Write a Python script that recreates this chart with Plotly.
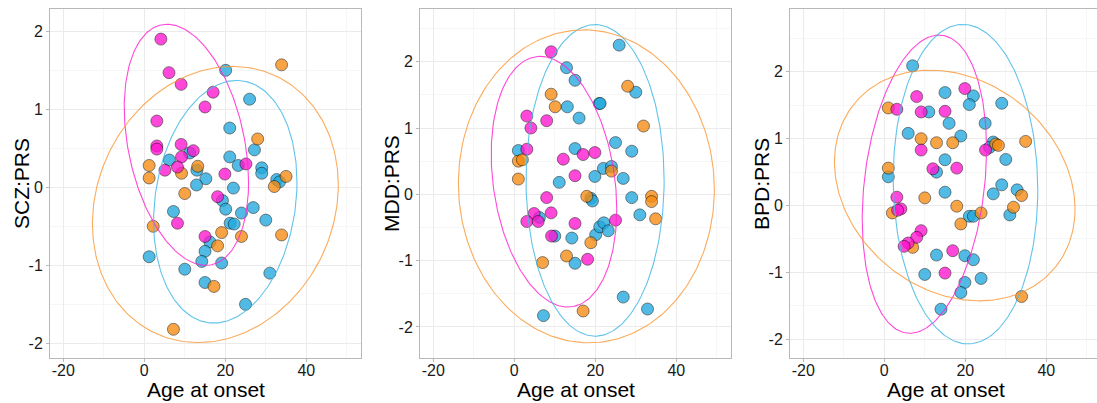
import numpy as np
import plotly.graph_objects as go

# ---------------- data ----------------
# Panel 1: SCZ:PRS
scz_mag_x = [4.1, 6.1, 9.1, 17.0, 15.0, 3.1, 3.1, 3.1, 9.1, 12.1, 9.2, 8.2, 5.1, 19.9, 25.1, 18.1, 8.2, 15.0]
scz_mag_y = [1.90, 1.47, 1.32, 1.22, 1.03, 0.85, 0.53, 0.49, 0.55, 0.47, 0.39, 0.26, 0.22, 0.17, 0.30, -0.12, -0.46, -0.63]
scz_blue_x = [20.1, 26.0, 21.1, 27.2, 6.2, 11.2, 21.1, 23.2, 29.0, 29.0, 13.0, 15.2, 12.9, 32.7, 33.4, 22.0, 19.3,
              20.1, 7.2, 26.9, 24.0, 30.0, 21.2, 22.2, 16.2, 15.0, 1.2, 14.2, 19.1, 10.0, 31.0, 15.0, 25.0]
scz_blue_y = [1.50, 1.13, 0.76, 0.48, 0.35, 0.44, 0.39, 0.28, 0.25, 0.18, 0.22, 0.11, 0.03, 0.10, 0.07, -0.01, -0.17,
              -0.28, -0.31, -0.26, -0.33, -0.42, -0.46, -0.47, -0.70, -0.82, -0.89, -0.95, -0.97, -1.05, -1.10, -1.22, -1.50]
scz_orange_x = [33.9, 28.0, 1.2, 1.2, 13.2, 9.2, 35.0, 10.0, 32.1, 2.2, 19.1, 24.0, 33.9, 18.1, 17.2, 7.2]
scz_orange_y = [1.57, 0.62, 0.28, 0.12, 0.27, 0.18, 0.14, -0.08, 0.01, -0.50, -0.58, -0.63, -0.61, -0.75, -1.27, -1.82]

# Panel 2: MDD:PRS
mdd_mag_x = [9.1, 3.1, 4.1, 8.0, 3.1, 17.0, 19.9, 12.1, 15.0, 8.0, 4.9, 3.1, 5.9, 9.1, 9.2, 15.0, 25.0, 18.1]
mdd_mag_y = [2.15, 1.18, 1.00, 1.11, 0.68, 0.60, 0.63, 0.53, 0.28, -0.05, -0.29, -0.41, -0.41, -0.28, -0.63, -0.44, -0.39, -0.98]
mdd_blue_x = [25.9, 12.9, 15.0, 30.0, 21.0, 21.2, 13.1, 16.0, 25.0, 15.0, 29.0, 1.0, 22.0, 24.0, 19.9, 26.9, 11.1,
              18.9, 19.3, 29.0, 31.0, 6.2, 10.0, 14.2, 20.1, 21.1, 22.1, 23.2, 15.0, 26.9, 32.9, 7.2]
mdd_blue_y = [2.25, 1.91, 1.72, 1.54, 1.37, 1.37, 1.32, 1.15, 0.78, 0.69, 0.65, 0.66, 0.39, 0.42, 0.27, 0.24, 0.18,
              -0.06, -0.10, -0.05, -0.31, -0.35, -0.63, -0.66, -0.61, -0.49, -0.43, -0.55, -1.04, -1.55, -1.73, -1.83]
mdd_orange_x = [28.0, 9.1, 10.1, 31.9, 1.0, 2.0, 1.0, 24.0, 17.9, 33.9, 33.9, 34.9, 18.9, 12.9, 7.0, 17.0]
mdd_orange_y = [1.63, 1.51, 1.32, 1.03, 0.50, 0.52, 0.23, 0.35, -0.03, -0.03, -0.11, -0.37, -0.73, -0.93, -1.03, -1.76]

# Panel 3: BPD:PRS
bpd_mag_x = [19.9, 8.0, 3.1, 9.1, 15.0, 9.1, 25.0, 17.9, 12.0, 3.1, 4.1, 3.3, 9.1, 8.0, 5.9, 4.9, 16.9, 15.0]
bpd_mag_y = [1.75, 1.63, 1.44, 1.40, 1.41, 0.83, 0.83, 0.56, 0.55, 0.125, -0.05, -0.07, -0.375, -0.475, -0.56, -0.61, -0.675, -1.01]
bpd_blue_x = [7.0, 15.0, 22.0, 21.0, 29.0, 11.0, 16.0, 24.9, 5.9, 18.9, 26.9, 26.0, 30.0, 15.0, 1.0, 12.9, 29.0,
              32.8, 15.0, 26.9, 31.0, 21.0, 22.0, 12.9, 19.9, 22.0, 10.0, 23.9, 19.9, 18.9, 14.0]
bpd_blue_y = [2.09, 1.69, 1.64, 1.51, 1.53, 1.40, 1.23, 1.23, 1.08, 1.04, 0.95, 0.87, 0.69, 0.685, 0.43, 0.50, 0.31,
              0.235, 0.20, 0.175, -0.14, -0.16, -0.16, -0.74, -0.75, -0.81, -1.03, -1.09, -1.15, -1.30, -1.55]
bpd_orange_x = [1.0, 9.1, 12.9, 16.9, 27.5, 28.2, 34.9, 1.0, 10.0, 33.9, 17.9, 31.9, 2.0, 23.9, 18.9, 7.0, 33.9]
bpd_orange_y = [1.46, 1.00, 0.94, 0.94, 0.92, 0.90, 0.96, 0.56, 0.115, 0.15, -0.01, -0.025, -0.11, -0.11, -0.275, -0.625, -1.36]

# Ellipse summaries: [centre x, centre y, half-width, half-height, correlation]
scz_ell_mag = [10.4, 0.545, 15.35, 1.545, -0.31]
scz_ell_blue = [20.0, -0.185, 17.7, 1.555, 0.16]
scz_ell_orange = [17.55, -0.22, 30.35, 1.77, 0.14]
mdd_ell_mag = [9.8, 0.19, 15.5, 1.89, -0.22]
mdd_ell_blue = [19.95, 0.21, 17.05, 2.35, 0.0]
mdd_ell_orange = [17.8, 0.12, 31.6, 2.36, -0.02]
bpd_ell_mag = [9.9, 0.32, 15.35, 2.23, 0.235]
bpd_ell_blue = [20.05, 0.32, 17.85, 2.39, -0.036]
bpd_ell_orange = [17.4, 0.30, 29.7, 1.725, -0.205]

panel_titles = ["SCZ:PRS", "MDD:PRS", "BPD:PRS"]
x_title = "Age at onset"
x_ticks = [-20, 0, 20, 40]
y_ticks = [-2, -1, 0, 1, 2]

# ---------------- styling ----------------
W, H = 1097, 403
FONT = "Liberation Sans, Arial, sans-serif"
COL = {"mag": "#FF14CF", "blue": "#21A9DE", "orange": "#F78B10"}
ELL = {"mag": "rgba(255,40,210,0.85)", "blue": "rgba(70,185,230,0.85)", "orange": "rgba(250,150,50,0.8)"}

panels = [
    dict(mag=(scz_mag_x, scz_mag_y), blue=(scz_blue_x, scz_blue_y), orange=(scz_orange_x, scz_orange_y),
         ell=dict(mag=scz_ell_mag, blue=scz_ell_blue, orange=scz_ell_orange),
         xpx=(50, 361), yrange=[-2.188, 2.286]),
    dict(mag=(mdd_mag_x, mdd_mag_y), blue=(mdd_blue_x, mdd_blue_y), orange=(mdd_orange_x, mdd_orange_y),
         ell=dict(mag=mdd_ell_mag, blue=mdd_ell_blue, orange=mdd_ell_orange),
         xpx=(420, 731), yrange=[-2.469, 2.795]),
    dict(mag=(bpd_mag_x, bpd_mag_y), blue=(bpd_blue_x, bpd_blue_y), orange=(bpd_orange_x, bpd_orange_y),
         ell=dict(mag=bpd_ell_mag, blue=bpd_ell_blue, orange=bpd_ell_orange),
         xpx=(790, 1097), yrange=[-2.28, 2.94]),
]

PX_PER_UNIT = 4.05
X_LEFT = -23.28

fig = go.Figure()
t = np.linspace(0, 2 * np.pi, 241)
y_dom = [1 - 358 / H, 1 - 9 / H]

annotations = []
for i, p in enumerate(panels, start=1):
    xa = "x" if i == 1 else f"x{i}"
    ya = "y" if i == 1 else f"y{i}"
    for g in ["blue", "orange", "mag"]:
        xs, ys = p[g]
        fig.add_trace(go.Scatter(
            x=xs, y=ys, mode="markers", xaxis=xa, yaxis=ya, showlegend=False,
            marker=dict(size=12, color=COL[g], opacity=0.78,
                        line=dict(color="rgba(0,0,0,0.75)", width=0.8)),
            hoverinfo="x+y"))
    for g in ["mag", "blue", "orange"]:
        cx, cy, w, h, rho = p["ell"][g]
        ex = cx + w * np.cos(t)
        ey = cy + h * (rho * np.cos(t) + np.sqrt(1 - rho ** 2) * np.sin(t))
        fig.add_trace(go.Scatter(
            x=ex, y=ey, mode="lines", xaxis=xa, yaxis=ya, showlegend=False,
            line=dict(color=ELL[g], width=1.1), hoverinfo="skip"))

    x0, x1 = p["xpx"]
    xr = [X_LEFT, X_LEFT + (x1 - x0) / PX_PER_UNIT]
    axis_common = dict(showline=True, linecolor="#b8b8b8", linewidth=1, mirror=True,
                       showgrid=True, gridcolor="#ebebeb", gridwidth=1, zeroline=False,
                       ticks="outside", ticklen=3, tickcolor="#b8b8b8", tickwidth=1,
                       tickfont=dict(family=FONT, size=16, color="#1a1a1a"))
    fig.layout[f"xaxis{'' if i == 1 else i}"] = dict(
        domain=[x0 / W, min(x1 / W, 1.0)], range=xr, anchor=ya,
        tickvals=x_ticks, ticktext=[str(v) for v in x_ticks], ticklabelstandoff=-5,
        minor=dict(dtick=10, tick0=-30, showgrid=True, gridcolor="#f6f6f6", ticks=""),
        **axis_common)
    fig.layout[f"yaxis{'' if i == 1 else i}"] = dict(
        domain=y_dom, range=p["yrange"], anchor=xa,
        tickvals=y_ticks, ticktext=[str(v) for v in y_ticks],
        minor=dict(dtick=0.5, tick0=-2.5, showgrid=True, gridcolor="#f6f6f6", ticks=""),
        **axis_common)

    annotations.append(dict(text=x_title, xref="paper", yref="paper",
                            x=(x0 + 155.5) / W, y=1 - 389 / H, xanchor="center", yanchor="middle",
                            showarrow=False, font=dict(family=FONT, size=21, color="#000000")))
    annotations.append(dict(text=panel_titles[i - 1], xref="paper", yref="paper",
                            x=(x0 - 29) / W, y=1 - 184 / H, xanchor="center", yanchor="middle",
                            textangle=-90, showarrow=False,
                            font=dict(family=FONT, size=21, color="#000000")))

fig.update_layout(width=W, height=H, margin=dict(l=0, r=0, t=0, b=0),
                  paper_bgcolor="white", plot_bgcolor="white",
                  annotations=annotations, showlegend=False)

fig.write_html("out.html")
